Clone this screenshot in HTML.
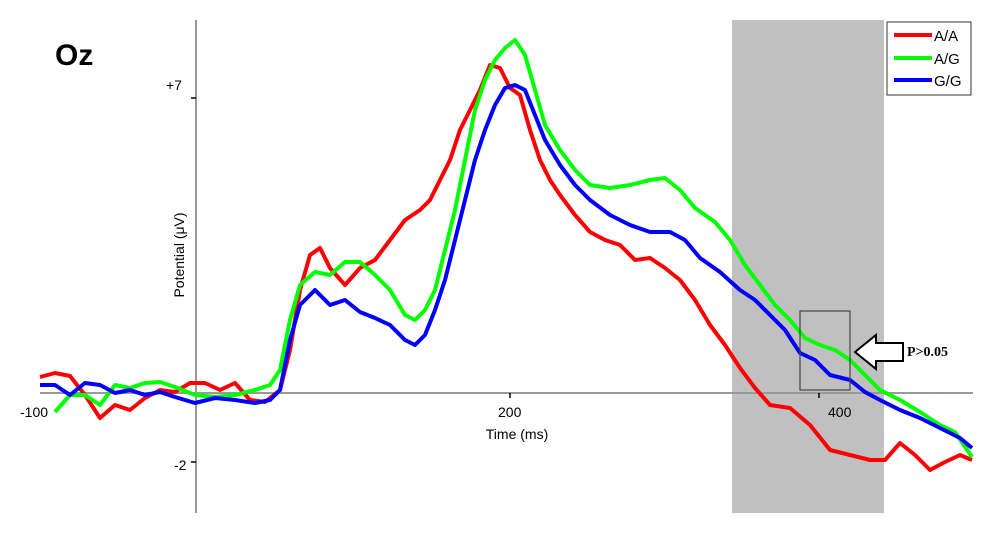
<!DOCTYPE html>
<html><head><style>body{margin:0;background:#fff}svg{display:block}</style></head><body>
<svg width="1000" height="536" xmlns="http://www.w3.org/2000/svg" font-family="Liberation Sans, sans-serif">
<rect x="732" y="20" width="152" height="493" fill="#c0c0c0"/>
<line x1="196" y1="20" x2="196" y2="513" stroke="#999" stroke-width="2"/>
<line x1="40" y1="393" x2="973" y2="393" stroke="#999" stroke-width="2"/>
<line x1="191" y1="98" x2="196" y2="98" stroke="#000" stroke-width="1.5"/>
<line x1="191" y1="462" x2="196" y2="462" stroke="#000" stroke-width="1.5"/>
<line x1="510" y1="393" x2="510" y2="398" stroke="#000" stroke-width="1.5"/>
<line x1="819" y1="393" x2="819" y2="398" stroke="#000" stroke-width="1.5"/>
<text x="55" y="65" font-size="30" font-weight="bold">Oz</text>
<text x="166" y="90" font-size="14">+7</text>
<text x="174" y="470" font-size="14">-2</text>
<text x="20" y="417" font-size="14">-100</text>
<text x="498" y="417" font-size="14">200</text>
<text x="828" y="417" font-size="14">400</text>
<text x="517" y="439" font-size="14" text-anchor="middle">Time (ms)</text>
<text transform="translate(184,255) rotate(-90)" font-size="14" text-anchor="middle">Potential (μV)</text>
<g fill="none" stroke-width="4" stroke-linejoin="round">
<polyline stroke="#f00" points="40,377 55,373 70,376 85,395 100,418 115,405 130,410 145,398 160,390 175,392 190,383 205,383 220,390 235,383 250,400 265,402 280,390 290,350 300,290 310,255 320,248 330,268 345,285 360,268 375,260 390,240 405,220 420,210 430,200 440,180 450,160 460,130 470,110 480,90 490,65 500,68 510,88 520,95 530,130 540,160 550,180 560,195 575,215 590,232 605,240 620,245 635,260 650,258 665,268 680,280 695,300 710,325 725,345 740,368 755,388 770,405 790,408 810,425 830,450 850,455 870,460 885,460 900,443 915,455 930,470 945,462 960,455 972,460"/>
<polyline stroke="#0f0" points="55,412 70,395 85,395 100,405 115,385 130,388 145,383 160,382 175,387 195,395 215,397 235,395 255,390 270,385 280,370 290,320 300,285 315,272 330,275 345,262 360,262 375,275 390,290 405,315 415,320 425,310 435,290 445,250 455,210 465,160 475,110 485,80 495,60 505,48 515,40 525,55 535,90 545,125 560,150 575,170 590,185 610,188 630,185 650,180 665,178 680,190 695,208 715,222 730,240 745,265 760,285 775,305 790,320 805,338 820,345 835,350 850,360 865,375 880,390 900,400 920,412 940,425 955,432 972,457"/>
<polyline stroke="#00f" points="40,385 55,385 70,395 85,383 100,385 115,393 130,390 145,395 160,392 175,397 195,403 215,398 235,400 255,403 270,400 280,390 290,340 300,305 315,290 330,305 345,300 360,312 375,318 390,325 405,340 415,345 425,335 435,310 445,280 455,240 465,200 475,160 485,130 495,105 505,88 515,85 525,90 535,115 545,140 560,165 575,185 590,200 610,215 630,225 650,232 670,232 685,240 700,258 720,272 740,290 755,300 770,315 785,330 800,353 815,360 830,375 850,380 865,392 880,400 900,410 920,418 940,428 960,438 972,448"/>
</g>
<rect x="800" y="311" width="50" height="79" fill="none" stroke="#444" stroke-width="1.2"/>
<polygon points="855,352 876,335 876,343 903,343 903,361 876,361 876,369" fill="#fff" stroke="#000" stroke-width="2"/>
<text x="907" y="356" font-family="Liberation Serif, serif" font-weight="bold" font-size="14">P&gt;0.05</text>
<rect x="887" y="22" width="84" height="73" fill="#fff" stroke="#333" stroke-width="1"/>
<line x1="894" y1="35" x2="932" y2="35" stroke="#f00" stroke-width="4"/>
<line x1="894" y1="58" x2="932" y2="58" stroke="#0f0" stroke-width="4"/>
<line x1="894" y1="80" x2="932" y2="80" stroke="#00f" stroke-width="4"/>
<text x="934" y="41" font-size="15">A/A</text>
<text x="934" y="64" font-size="15">A/G</text>
<text x="934" y="86" font-size="15">G/G</text>
</svg>
</body></html>
